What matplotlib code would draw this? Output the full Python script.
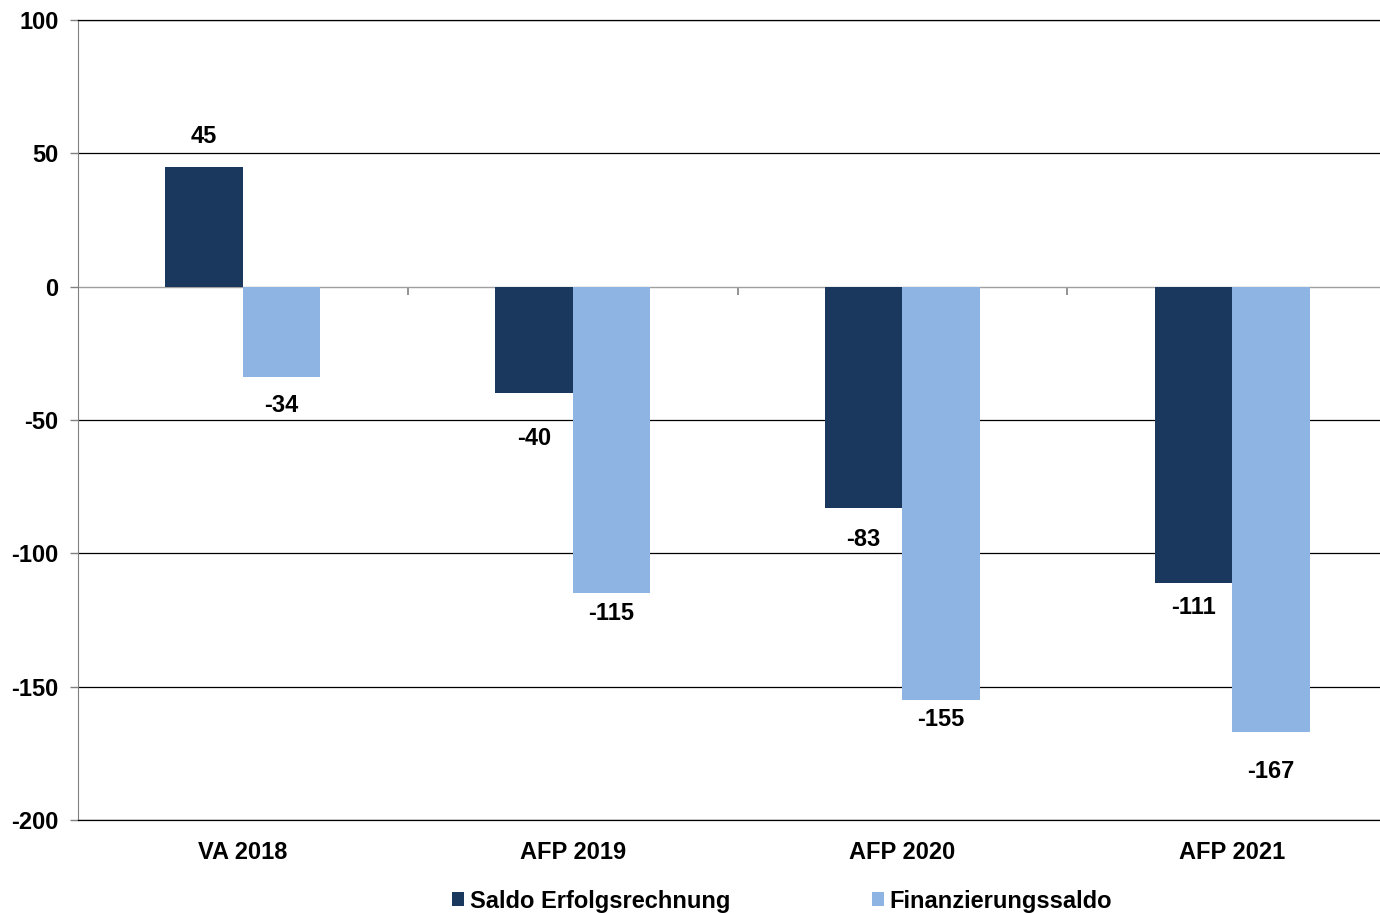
import matplotlib.pyplot as plt
import numpy as np

categories = ['VA 2018', 'AFP 2019', 'AFP 2020', 'AFP 2021']
saldo_erfolg = [45, -40, -83, -111]
finanz_saldo = [-34, -115, -155, -167]
series_names = ['Saldo Erfolgsrechnung', 'Finanzierungssaldo']
yticks = [-200, -150, -100, -50, 0, 50, 100]

# label offsets in pixels (as placed in the original)
offs_erfolg = [30, -45, -32, -25]
offs_finanz = [-28, -20, -19, -39]

dark = '#1A375E'
light = '#8EB4E3'

plt.rcParams['font.family'] = ['Liberation Sans', 'DejaVu Sans']
plt.rcParams['font.weight'] = 'bold'

fig = plt.figure(figsize=(13.8, 9.13), dpi=100)
ax = fig.add_axes([78 / 1380, 1 - 820 / 913, 1319 / 1380, 800 / 913])

x = np.arange(len(categories))
w = 0.235
b1 = ax.bar(x - w / 2, saldo_erfolg, w, color=dark, label=series_names[0], zorder=3)
b2 = ax.bar(x + w / 2, finanz_saldo, w, color=light, label=series_names[1], zorder=3)

for bars, vals, offs in [(b1, saldo_erfolg, offs_erfolg), (b2, finanz_saldo, offs_finanz)]:
    for bar, v, o in zip(bars, vals, offs):
        ax.annotate(str(v), (bar.get_x() + bar.get_width() / 2, v),
                    xytext=(0, o), textcoords='offset pixels',
                    ha='center', va='center', fontsize=17, fontweight='bold')

ax.set_xlim(-0.5, len(categories) - 0.5)
ax.set_ylim(-200, 100)
ax.set_yticks(yticks)
ax.set_yticklabels([str(t) for t in yticks], fontsize=17, fontweight='bold')
ax.set_xticks(x)
ax.set_xticklabels(categories, fontsize=17, fontweight='bold')
ax.tick_params(axis='x', length=0, pad=15)
ax.tick_params(axis='y', length=6, color='#808080', pad=8, width=1)

ax.yaxis.grid(True, color='black', linewidth=0.9, zorder=0)
ax.set_axisbelow(True)
# zero line is the gray category axis, not a black gridline
for t, gl in zip(yticks, ax.get_ygridlines()):
    if t == 0:
        gl.set_visible(False)
ax.spines['right'].set_visible(False)
ax.spines['top'].set_color('black')
ax.spines['bottom'].set_color('black')
ax.spines['left'].set_color('#808080')
ax.spines['top'].set_linewidth(0.9)
ax.spines['bottom'].set_linewidth(0.9)

# category axis crossing at zero with boundary ticks
sec = ax.secondary_xaxis(0, transform=ax.transData)
sec.set_xticks(np.arange(len(categories) - 1) + 0.5)
sec.set_xticklabels([])
sec.tick_params(length=6, color='#808080', width=1.2)
sec.spines['bottom'].set_color('#A0A0A0')
sec.spines['bottom'].set_linewidth(1.0)

fig.legend(handles=[b1, b2], labels=series_names, loc='center', ncol=2,
           bbox_to_anchor=(782 / 1380, 1 - 901 / 913), frameon=False,
           prop={'size': 17, 'weight': 'bold'}, handlelength=0.5, handleheight=0.5,
           handletextpad=0.25, columnspacing=6.0)

fig.savefig('out.png', dpi=100)
